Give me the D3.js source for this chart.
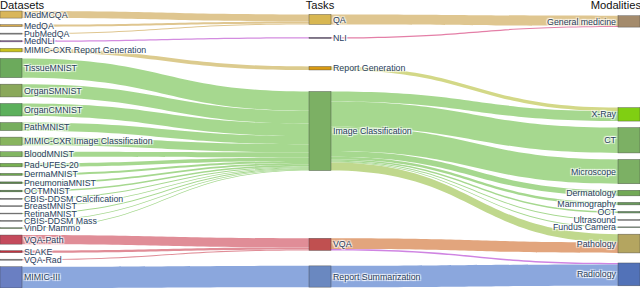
<!DOCTYPE html>
<html>
<head>
<meta charset="utf-8">
<script src="https://cdn.jsdelivr.net/npm/d3@7"></script>
<style>
    body { margin: 0; background: #fff; }
    svg { display: block; }
    .node-label {
        font-family: "Liberation Sans", Arial, sans-serif;
        font-size: 8.8px;
        fill: #2a3f5f;
        text-shadow: 1px 1px 1px #fff, -1px -1px 1px #fff, 1px -1px 1px #fff, -1px 1px 1px #fff;
    }
    .header {
        font-family: "Liberation Sans", Arial, sans-serif;
        font-size: 11.2px;
        fill: #111;
    }
</style>
</head>
<body>
<svg id="sankey" width="640" height="288"></svg>
<script>
var columnTitles = ["Datasets", "Tasks", "Modalities"];

// column 1: datasets, the task each one feeds, and its size
var datasets = ["MedMCQA", "MedQA", "PubMedQA", "MedNLI", "MIMIC-CXR Report Generation",
    "TissueMNIST", "OrganSMNIST", "OrganCMNIST", "PathMNIST", "MIMIC-CXR Image Classification",
    "BloodMNIST", "Pad-UFES-20", "DermaMNIST", "PneumoniaMNIST", "OCTMNIST",
    "CBIS-DDSM Calcification", "BreastMNIST", "RetinaMNIST", "CBIS-DDSM Mass", "VinDr Mammo",
    "VQA-Path", "SLAKE", "VQA-Rad", "MIMIC-III"];
var datasetTask = ["QA", "QA", "QA", "NLI", "Report Generation",
    "Image Classification", "Image Classification", "Image Classification", "Image Classification", "Image Classification",
    "Image Classification", "Image Classification", "Image Classification", "Image Classification", "Image Classification",
    "Image Classification", "Image Classification", "Image Classification", "Image Classification", "Image Classification",
    "VQA", "VQA", "VQA", "Report Summarization"];
var datasetValues = [7, 2, 1, 1.2, 3.5,
    19, 12.6, 12.4, 8, 8,
    5, 3.5, 2, 1.8, 1.6,
    0.9, 0.85, 0.8, 0.8, 0.8,
    9, 2, 1, 21];

// column 2 and 3
var tasks = ["QA", "NLI", "Report Generation", "Image Classification", "VQA", "Report Summarization"];
var modalities = ["General medicine", "X-Ray", "CT", "Microscope", "Dermatology", "Mammography",
    "OCT", "Ultrasound", "Fundus Camera", "Pathology", "Radiology"];

var taskModSource = ["QA", "NLI", "Report Generation", "Image Classification", "Image Classification",
    "Image Classification", "Image Classification", "Image Classification", "Image Classification",
    "Image Classification", "Image Classification", "Image Classification", "VQA", "VQA", "Report Summarization"];
var taskModTarget = ["General medicine", "General medicine", "X-Ray", "X-Ray", "CT",
    "Microscope", "Dermatology", "Mammography", "OCT",
    "Ultrasound", "Fundus Camera", "Pathology", "Pathology", "Radiology", "Radiology"];
var taskModValues = [10, 1.2, 3.5, 9.8, 25,
    24, 5.5, 2.5, 1.6,
    0.85, 0.8, 8, 10.5, 1.5, 21];

// colours
var datasetColors = ["#d9b65a", "#d4a94c", "#8a8a8a", "#8a5c9e", "#c9c21c",
    "#6caa5c", "#8aa85a", "#5cb05c", "#76ae5e", "#88b45e",
    "#82b662", "#78b052", "#6ca54e", "#5e8a4e", "#5a8c4a",
    "#777777", "#8a8a8a", "#999999", "#808080", "#6a9a52",
    "#c44a5c", "#c0323e", "#888888", "#6a7fc2"];
var taskColors = ["#d8b752", "#7d6190", "#d99a12", "#7cb064", "#c05050", "#6a88c0"];
var modalityColors = ["#a48b6c", "#80cf12", "#7cb064", "#7cb064", "#72a956", "#6a9a5c",
    "#6e9c6a", "#8a8a8a", "#7c9a7c", "#b4a560", "#5272b8"];
var datasetLinkColors = ["#dfc690", "#dfc690", "#dfc690", "#d38ce0", "#dccb8e",
    "#a6d88f", "#a6d88f", "#a6d88f", "#a6d88f", "#a6d88f",
    "#a6d88f", "#a6d88f", "#a6d88f", "#a6d88f", "#a6d88f",
    "#a6d88f", "#a6d88f", "#a6d88f", "#a6d88f", "#a6d88f",
    "#e08d97", "#e08d97", "#e08d97", "#8ba7dd"];
var taskModLinkColors = ["#dfc690", "#e47fa7", "#d3d887", "#a6d88f", "#a6d88f",
    "#a6d88f", "#a6d88f", "#a6d88f", "#a6d88f",
    "#a6d88f", "#a6d88f", "#c0d88d", "#e2a57d", "#cf84e2", "#8ba7dd"];

var svg = d3.select("#sankey"),
    width = +svg.attr("width"),
    height = +svg.attr("height"),
    y0 = 11,
    y1 = height,
    nodeWidth = 22,
    nodePad = 6.5,
    iterations = 50;

var x = d3.scaleLinear().domain([0, 2]).range([0, width - nodeWidth]);

// build graph
var nodes = [];
datasets.forEach(function (d, i) { nodes.push({name: d, col: 0, color: datasetColors[i]}); });
tasks.forEach(function (d, i) { nodes.push({name: d, col: 1, color: taskColors[i]}); });
modalities.forEach(function (d, i) { nodes.push({name: d, col: 2, color: modalityColors[i]}); });

function findNode(col, name) {
    return nodes.find(function (n) { return n.col === col && n.name === name; });
}

var links = [];
datasets.forEach(function (d, i) {
    links.push({source: findNode(0, d), target: findNode(1, datasetTask[i]),
        value: datasetValues[i], color: datasetLinkColors[i]});
});
taskModSource.forEach(function (s, i) {
    links.push({source: findNode(1, s), target: findNode(2, taskModTarget[i]),
        value: taskModValues[i], color: taskModLinkColors[i]});
});

nodes.forEach(function (n) { n.sourceLinks = []; n.targetLinks = []; });
links.forEach(function (l) { l.source.sourceLinks.push(l); l.target.targetLinks.push(l); });
nodes.forEach(function (n) {
    n.value = Math.max(d3.sum(n.sourceLinks, function (l) { return l.value; }),
        d3.sum(n.targetLinks, function (l) { return l.value; }));
    n.x0 = x(n.col);
    n.x1 = n.x0 + nodeWidth;
});

var columns = d3.groups(nodes, function (n) { return n.col; }).map(function (g) { return g[1]; });

// vertical layout, relaxation like the classic d3-sankey
var ky = d3.min(columns, function (c) {
    return (y1 - y0 - (c.length - 1) * nodePad) / d3.sum(c, function (n) { return n.value; });
});
var size = d3.scaleLinear().domain([0, 1]).range([0, ky]);

columns.forEach(function (c) {
    c.forEach(function (n, i) { n.y0 = i; n.y1 = i + size(n.value); });
});
links.forEach(function (l) { l.width = size(l.value); });

function center(n) { return (n.y0 + n.y1) / 2; }

function resolveCollisions() {
    columns.forEach(function (c) {
        var node, dy, y = y0, i;
        c.sort(function (a, b) { return a.y0 - b.y0; });
        for (i = 0; i < c.length; ++i) {
            node = c[i];
            dy = y - node.y0;
            if (dy > 0) { node.y0 += dy; node.y1 += dy; }
            y = node.y1 + nodePad;
        }
        dy = y - nodePad - y1;
        if (dy > 0) {
            y = (node.y0 -= dy); node.y1 -= dy;
            for (i = c.length - 2; i >= 0; --i) {
                node = c[i];
                dy = node.y1 + nodePad - y;
                if (dy > 0) { node.y0 -= dy; node.y1 -= dy; }
                y = node.y0;
            }
        }
    });
}

function relaxLeftToRight(alpha) {
    columns.forEach(function (c) {
        c.forEach(function (n) {
            if (n.targetLinks.length) {
                var dy = (d3.sum(n.targetLinks, function (l) { return center(l.source) * l.value; }) /
                    d3.sum(n.targetLinks, function (l) { return l.value; }) - center(n)) * alpha;
                n.y0 += dy; n.y1 += dy;
            }
        });
    });
}

function relaxRightToLeft(alpha) {
    columns.slice().reverse().forEach(function (c) {
        c.forEach(function (n) {
            if (n.sourceLinks.length) {
                var dy = (d3.sum(n.sourceLinks, function (l) { return center(l.target) * l.value; }) /
                    d3.sum(n.sourceLinks, function (l) { return l.value; }) - center(n)) * alpha;
                n.y0 += dy; n.y1 += dy;
            }
        });
    });
}

resolveCollisions();
for (var alpha = 1, it = iterations; it > 0; --it) {
    relaxRightToLeft(alpha *= 0.99);
    resolveCollisions();
    relaxLeftToRight(alpha);
    resolveCollisions();
}

// link stacking at each node
nodes.forEach(function (n) {
    n.sourceLinks.sort(function (a, b) { return a.target.y0 - b.target.y0; });
    n.targetLinks.sort(function (a, b) { return a.source.y0 - b.source.y0; });
});
nodes.forEach(function (n) {
    var ys = n.y0, yt = n.y0;
    n.sourceLinks.forEach(function (l) { l.sy = ys; ys += l.width; });
    n.targetLinks.forEach(function (l) { l.ty = yt; yt += l.width; });
});

function ribbon(l) {
    var sx = l.source.x1, tx = l.target.x0,
        xi = d3.interpolateNumber(sx, tx),
        c1 = xi(0.5), c2 = xi(0.5),
        p = d3.path();
    p.moveTo(sx, l.sy);
    p.bezierCurveTo(c1, l.sy, c2, l.ty, tx, l.ty);
    p.lineTo(tx, l.ty + l.width);
    p.bezierCurveTo(c2, l.ty + l.width, c1, l.sy + l.width, sx, l.sy + l.width);
    p.closePath();
    return p.toString();
}

svg.append("g")
    .attr("class", "links")
    .selectAll("path")
    .data(links)
    .enter().append("path")
    .attr("d", ribbon)
    .attr("fill", function (d) { return d.color; });

var nodeG = svg.append("g").attr("class", "nodes");
nodeG.selectAll("rect")
    .data(nodes)
    .enter().append("rect")
    .attr("x", function (d) { return d.x0; })
    .attr("y", function (d) { return d.y0; })
    .attr("width", nodeWidth)
    .attr("height", function (d) { return Math.max(0.5, d.y1 - d.y0); })
    .attr("fill", function (d) { return d.color; })
    .attr("stroke", "#444")
    .attr("stroke-opacity", 0.8)
    .attr("stroke-width", 0.5);

nodeG.selectAll("text")
    .data(nodes)
    .enter().append("text")
    .attr("class", "node-label")
    .attr("x", function (d) { return d.col < 2 ? d.x1 + 2 : d.x0 - 2; })
    .attr("y", function (d) { return center(d); })
    .attr("dy", "0.35em")
    .attr("text-anchor", function (d) { return d.col < 2 ? "start" : "end"; })
    .text(function (d) { return d.name; });

svg.append("g")
    .selectAll("text")
    .data(columnTitles)
    .enter().append("text")
    .attr("class", "header")
    .attr("x", function (d, i) { return i === 0 ? 0 : i === 1 ? x(1) + nodeWidth / 2 : width + 1; })
    .attr("y", 9)
    .attr("text-anchor", function (d, i) { return i === 0 ? "start" : i === 1 ? "middle" : "end"; })
    .text(function (d) { return d; });
</script>
</body>
</html>
